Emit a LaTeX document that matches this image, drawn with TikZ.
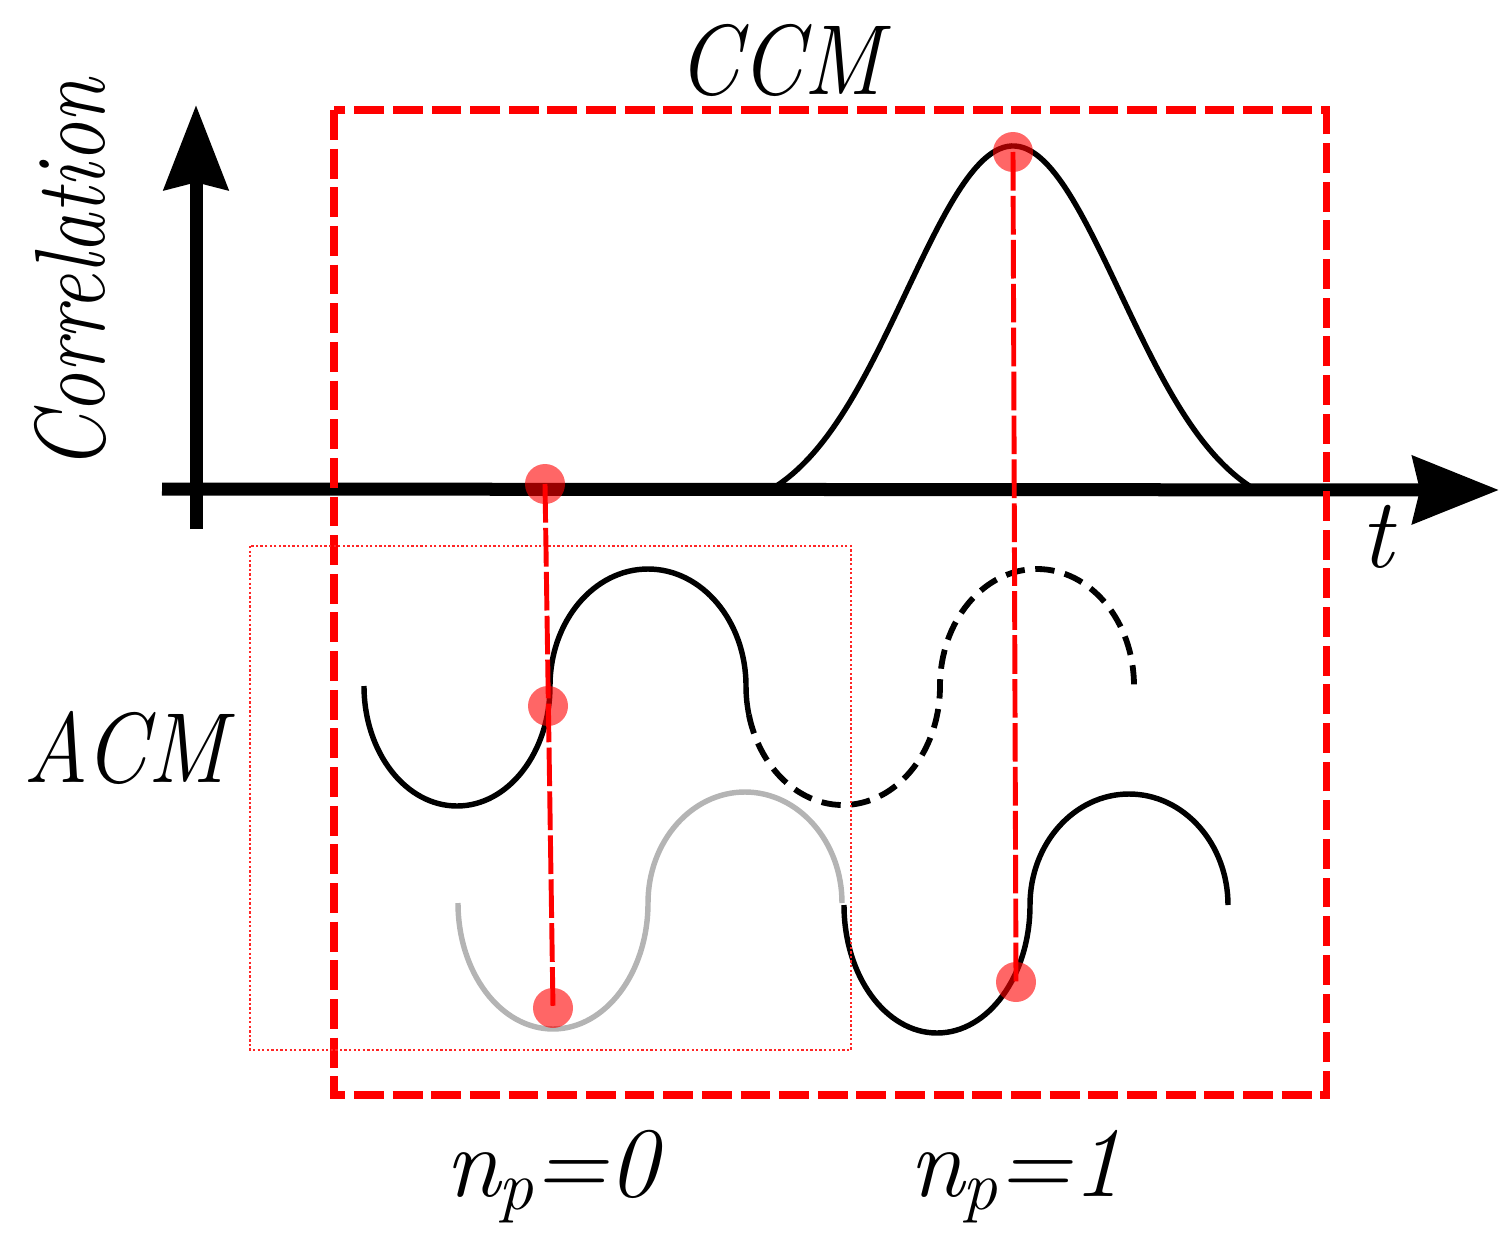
\documentclass[tikz,border=0pt]{standalone}
\usetikzlibrary{arrows.meta}
\definecolor{wavegray}{RGB}{180,180,180}
\definecolor{pured}{RGB}{255,0,0}
\begin{document}
\begin{tikzpicture}[x=0.02cm,y=-0.02cm,
  axis/.style={line width=7.4pt, draw=black},
  wave/.style={line width=3.1pt, draw=black},
  dwave/.style={line width=3.3pt, draw=black, dash pattern=on 11pt off 6pt},
  gwave/.style={line width=3.1pt, draw=wavegray},
  ccmbox/.style={line width=4pt, draw=pured, dash pattern=on 17pt off 5pt},
  acmbox/.style={line width=1.4pt, draw=pured!85, dash pattern=on 1.3pt off 1.3pt},
  redline/.style={line width=2.8pt, draw=pured, dash pattern=on 22pt off 3pt},
  rdot/.style={fill=pured, fill opacity=0.6},
  lbl/.style={font=\fontsize{56.7}{60}\selectfont\itshape, inner sep=0pt}]
\useasboundingbox (0,0) rectangle (1508,1237);
% axes
\coordinate (yb) at (196,529);
\coordinate (yt) at (196,105);
\coordinate (xl) at (162,489);
\coordinate (xr) at (1499,490);
\draw[axis, -{Stealth[length=48pt,width=36pt,inset=4pt]}] (yb) -- (yt);
\draw[axis, -{Stealth[length=49pt,width=38pt,inset=4pt]}] (xl) -- (xr);
% gaussian
\draw[wave] plot[domain=772:1255, samples=120, smooth] (\x, {489 - 343*(exp(-0.5*((\x-1013)/107)^2) - 0.079)/0.921});
% upper wave
\draw[wave] (364,686) arc[start angle=180, end angle=0, x radius=93, y radius=120]
  arc[start angle=180, end angle=360, x radius=98, y radius=117]
  arc[start angle=180, end angle=166, x radius=97, y radius=119] coordinate (wsplit);
\draw[dwave] (wsplit) arc[start angle=166, end angle=0, x radius=97, y radius=119]
  arc[start angle=180, end angle=360, x radius=97, y radius=117];
% lower wave
\draw[gwave] (458,903) arc[start angle=180, end angle=0, x radius=95, y radius=126]
  arc[start angle=180, end angle=360, x radius=97, y radius=111];
\draw[wave] (844,905) arc[start angle=180, end angle=0, x radius=93, y radius=128]
  arc[start angle=180, end angle=360, x radius=99, y radius=111];
% boxes
\draw[ccmbox] (334,110) rectangle (1326,1095);
\draw[acmbox] (250,546) rectangle (851,1050);
% points
\coordinate (d1) at (545,484);
\coordinate (d2) at (548,706);
\coordinate (d3) at (553,1008);
\coordinate (d4) at (1013,152);
\coordinate (d5) at (1016,982);
\draw[redline] (d1) -- (d3);
\draw[redline] (d4) -- (d5);
\foreach \p in {d1,d2,d3,d4,d5} \fill[rdot] (\p) circle[radius=20];
% labels
\node[lbl, rotate=90] (corr) at (70,275) {\scalebox{0.81}[1]{Correlation}};
\node[lbl] (ccm) at (780,60) {\scalebox{0.9}[1]{CCM}};
\node[lbl] (acm) at (125,748) {\scalebox{0.9}[1]{ACM}};
\node[lbl] (tl) at (1377,537) {t};
\node[lbl, anchor=base] (np0) at (552,1196) {n\kern-0.02em\raisebox{-0.14em}{\fontsize{39.7}{40}\selectfont p}=0};
\node[lbl, anchor=base] (np1) at (1016,1196) {n\kern-0.02em\raisebox{-0.14em}{\fontsize{39.7}{40}\selectfont p}=1};
\end{tikzpicture}
\end{document}
